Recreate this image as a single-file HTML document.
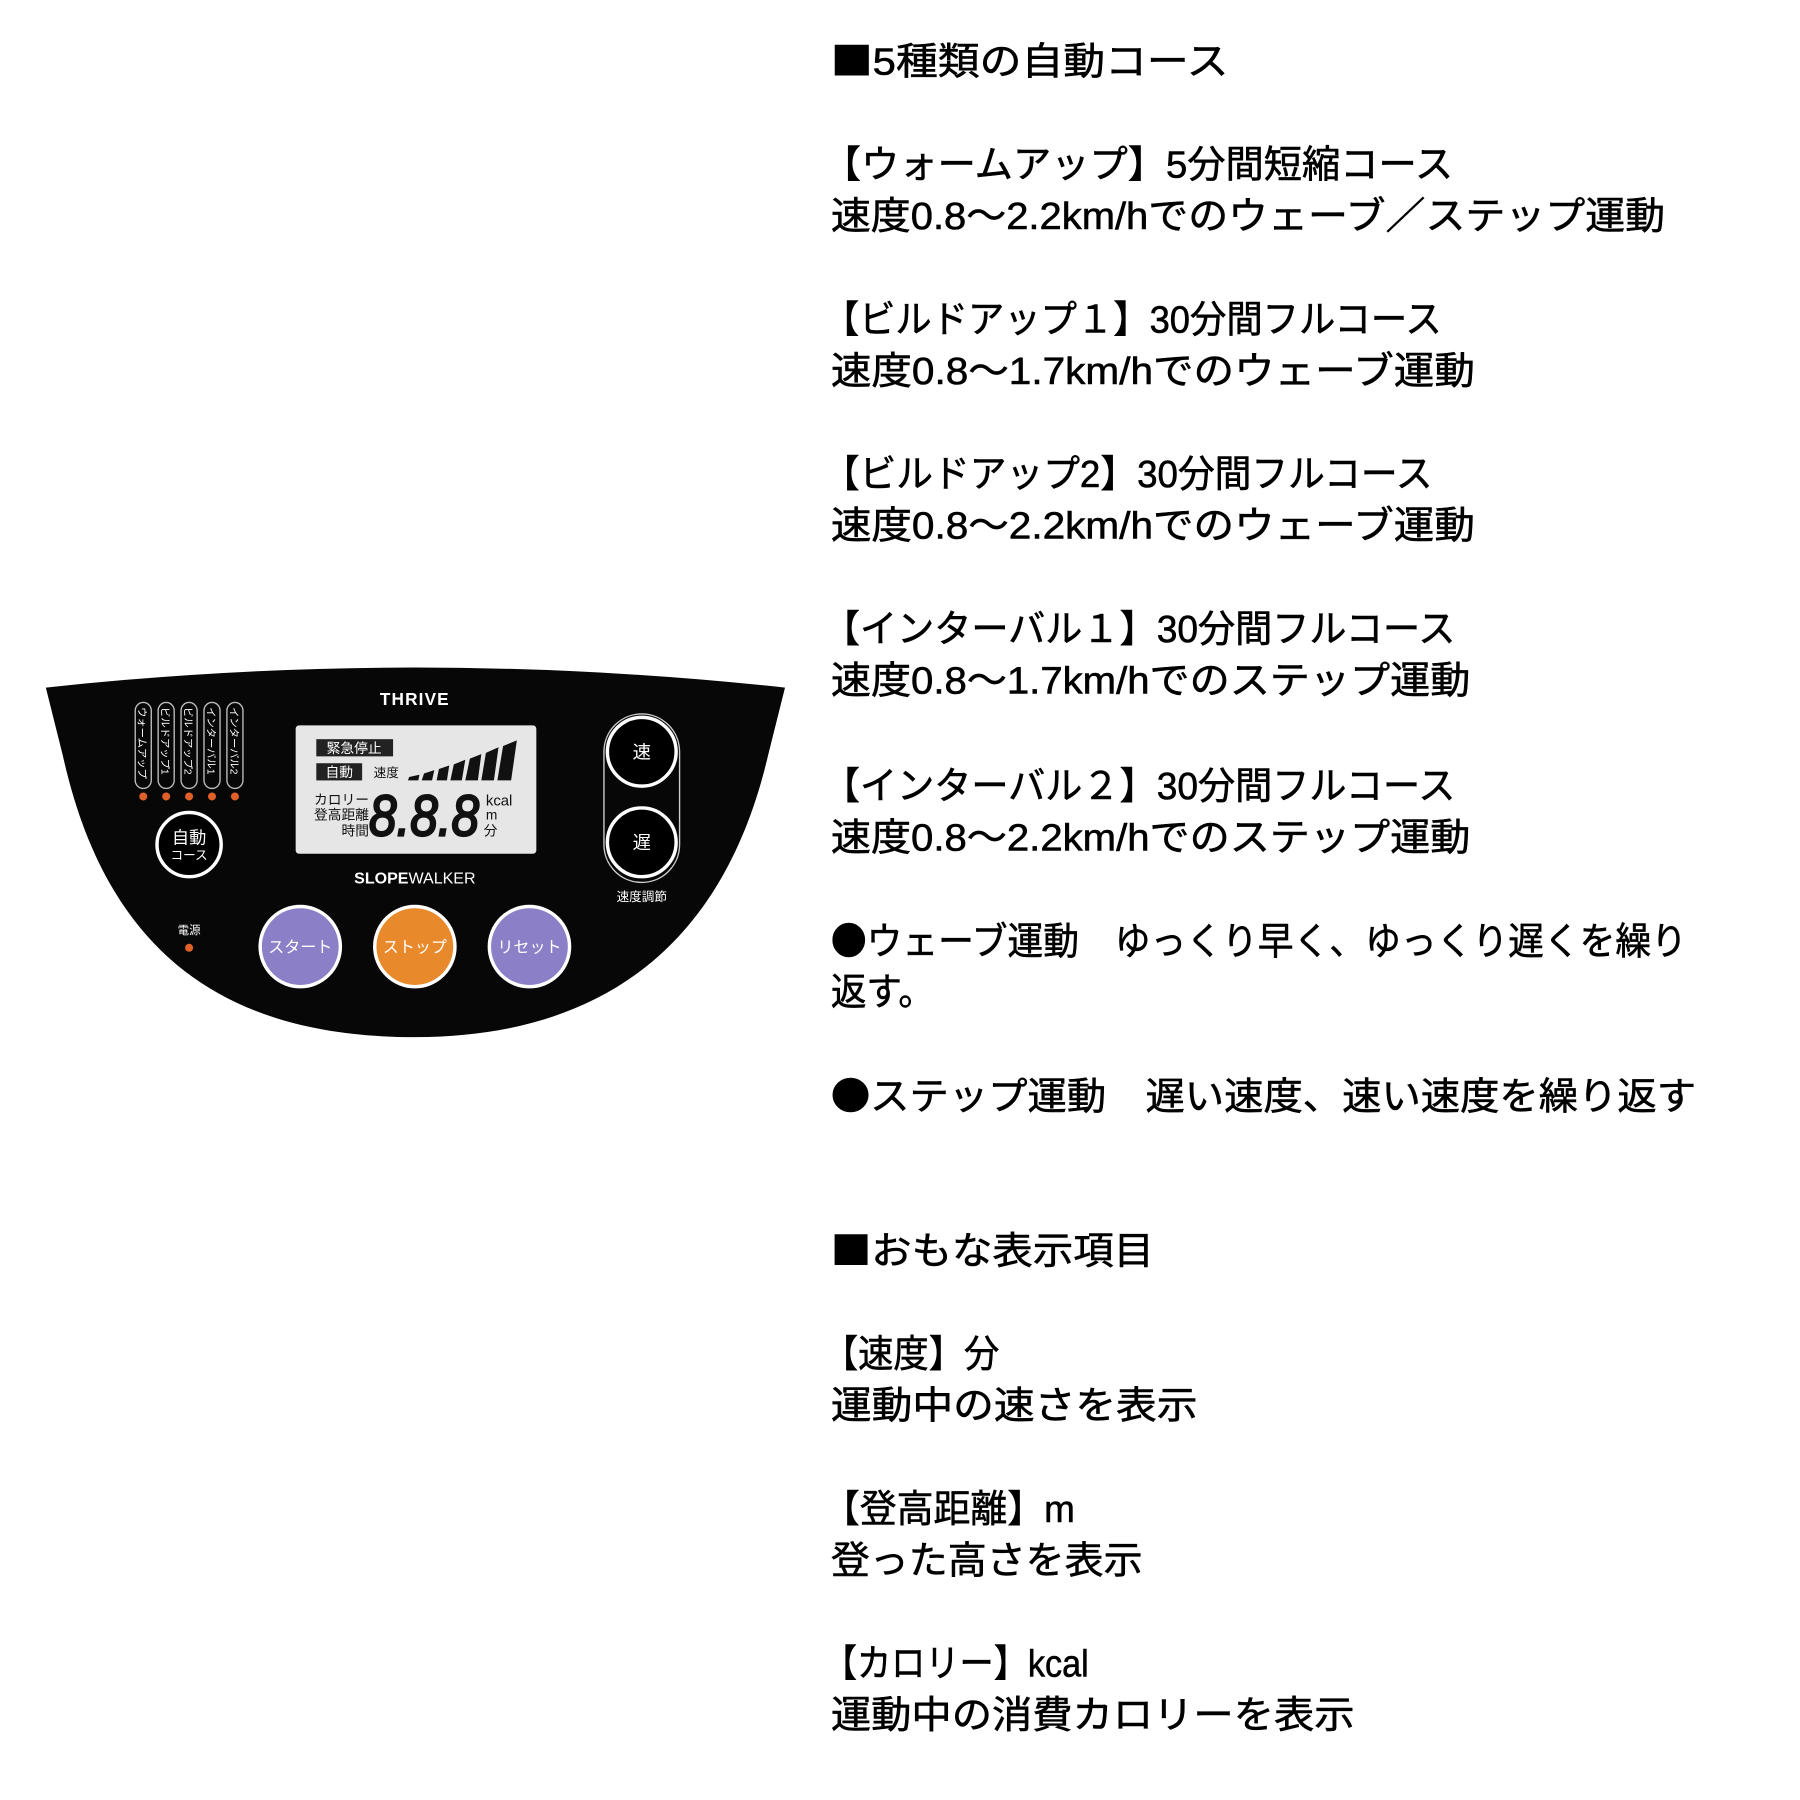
<!DOCTYPE html>
<html><head><meta charset="utf-8"><style>
html,body{margin:0;padding:0;background:#fff;width:1800px;height:1800px;overflow:hidden}
svg{display:block}
.t{font-family:"Liberation Sans","Noto Sans CJK JP",sans-serif;font-size:33px;fill:#000;stroke:#000;stroke-width:0.5}
.j{font-family:"Noto Sans CJK JP",sans-serif}
.w{font-family:"Liberation Sans","Noto Sans CJK JP",sans-serif;fill:#fff}
.k{font-family:"Liberation Sans","Noto Sans CJK JP",sans-serif;fill:#111}
</style></head><body>
<svg width="1800" height="1800" viewBox="0 0 1800 1800">
<g transform="scale(1.146)">
<path d="M40,600 Q362,565 685,600 L670,660 C630,830 520,905 362,905 C205,905 95,840 55,660 Z" fill="#070707"/>
<text x="362" y="615" class="w" font-size="15" font-weight="bold" text-anchor="middle" letter-spacing="1">THRIVE</text>
<g fill="none" stroke="#bbb" stroke-width="1.2">
<rect x="118" y="613" width="14" height="75" rx="7"/>
<rect x="138" y="613" width="14" height="75" rx="7"/>
<rect x="158" y="613" width="14" height="75" rx="7"/>
<rect x="178" y="613" width="14" height="75" rx="7"/>
<rect x="198" y="613" width="14" height="75" rx="7"/>
</g>
<g class="w" font-size="9">
<text transform="translate(121,617) rotate(90)">ウォームアップ</text>
<text transform="translate(141,617) rotate(90)">ビルドアップ1</text>
<text transform="translate(161,617) rotate(90)">ビルドアップ2</text>
<text transform="translate(181,617) rotate(90)">インターバル1</text>
<text transform="translate(201,617) rotate(90)">インターバル2</text>
</g>
<g fill="#e0602a">
<circle cx="125" cy="695" r="3.5"/><circle cx="145" cy="695" r="3.5"/><circle cx="165" cy="695" r="3.5"/><circle cx="185" cy="695" r="3.5"/><circle cx="205" cy="695" r="3.5"/>
<circle cx="165" cy="827" r="3.5"/>
</g>
<circle cx="165" cy="737" r="28" fill="#000" stroke="#fff" stroke-width="3"/>
<text x="165" y="736" class="w" font-size="15" text-anchor="middle">自動</text>
<text x="165" y="750" class="w" font-size="11" text-anchor="middle">コース</text>
<text x="165" y="815" class="w" font-size="10" text-anchor="middle">電源</text>
<rect x="258" y="633" width="210" height="112" rx="3" fill="#e6e6e6"/>
<rect x="276" y="645" width="67" height="15" fill="#222"/>
<text x="309" y="657" class="w" font-size="12" text-anchor="middle">緊急停止</text>
<rect x="276" y="666" width="40" height="15" fill="#222"/>
<text x="296" y="678" class="w" font-size="12" text-anchor="middle">自動</text>
<text x="326" y="678" class="k" font-size="11">速度</text>
<g fill="#111">
<polygon points="357,678 366,676 365,681 356,681"/>
<polygon points="370,675 379,672 377,681 368,681"/>
<polygon points="383,671 392,668 390,681 381,681"/>
<polygon points="396,667 406,663 403,681 393,681"/>
<polygon points="410,662 420,658 417,681 406,681"/>
<polygon points="424,657 435,652 431,681 420,681"/>
<polygon points="439,651 451,646 446,681 434,681"/>
</g>
<g class="k" font-size="12" text-anchor="end">
<text x="322" y="702">カロリー</text>
<text x="322" y="715">登高距離</text>
<text x="322" y="729">時間</text>
</g>
<text x="370" y="729" class="k" font-size="50" font-style="italic" text-anchor="middle" textLength="96" lengthAdjust="spacingAndGlyphs" fill="none" stroke="#111" stroke-width="2">8.8.8</text>
<text x="424" y="703" class="k" font-size="13">kcal</text>
<text x="424" y="715" class="k" font-size="12">m</text>
<text x="422" y="729" class="k" font-size="12">分</text>
<text x="362" y="771" class="w" font-size="14" text-anchor="middle" font-family="Liberation Serif"><tspan font-weight="bold">SLOPE</tspan>WALKER</text>
<rect x="527" y="623" width="66" height="147" rx="33" fill="none" stroke="#ccc" stroke-width="1.2"/>
<circle cx="560" cy="656" r="30" fill="#000" stroke="#fff" stroke-width="3"/>
<circle cx="560" cy="735" r="30" fill="#000" stroke="#fff" stroke-width="3"/>
<text x="560" y="662" class="w" font-size="16" text-anchor="middle">速</text>
<text x="560" y="741" class="w" font-size="16" text-anchor="middle">遅</text>
<text x="560" y="786" class="w" font-size="11" text-anchor="middle">速度調節</text>
<circle cx="262" cy="826" r="35" fill="#8b80c8" stroke="#fff" stroke-width="3"/>
<circle cx="362" cy="826" r="35" fill="#e88a2c" stroke="#fff" stroke-width="3"/>
<circle cx="462" cy="826" r="35" fill="#8b80c8" stroke="#fff" stroke-width="3"/>
<g class="w" font-size="14" text-anchor="middle">
<text x="262" y="831">スタート</text><text x="362" y="831">ストップ</text><text x="462" y="831">リセット</text>
</g>
<g class="t" transform="translate(0,3)">
<text x="725" y="62" textLength="347" lengthAdjust="spacingAndGlyphs"><tspan class="j">■</tspan>5種類の自動コース</text>
<text x="718" y="152" textLength="550" lengthAdjust="spacingAndGlyphs">【ウォームアップ】5分間短縮コース</text>
<text x="725" y="197" textLength="728" lengthAdjust="spacingAndGlyphs">速度0.8～2.2km/hでのウェーブ／ステップ運動</text>
<text x="718" y="287" textLength="540" lengthAdjust="spacingAndGlyphs">【ビルドアップ１】30分間フルコース</text>
<text x="725" y="332" textLength="562" lengthAdjust="spacingAndGlyphs">速度0.8～1.7km/hでのウェーブ運動</text>
<text x="718" y="422" textLength="532" lengthAdjust="spacingAndGlyphs">【ビルドアップ2】30分間フルコース</text>
<text x="725" y="467" textLength="562" lengthAdjust="spacingAndGlyphs">速度0.8～2.2km/hでのウェーブ運動</text>
<text x="718" y="557" textLength="552" lengthAdjust="spacingAndGlyphs">【インターバル１】30分間フルコース</text>
<text x="725" y="602" textLength="558" lengthAdjust="spacingAndGlyphs">速度0.8～1.7km/hでのステップ運動</text>
<text x="718" y="694" textLength="552" lengthAdjust="spacingAndGlyphs">【インターバル２】30分間フルコース</text>
<text x="725" y="739" textLength="558" lengthAdjust="spacingAndGlyphs">速度0.8～2.2km/hでのステップ運動</text>
<text x="725" y="830" textLength="747" lengthAdjust="spacingAndGlyphs"><tspan class="j">●</tspan>ウェーブ運動　ゆっくり早く、ゆっくり遅くを繰り</text>
<text x="725" y="874" textLength="90" lengthAdjust="spacingAndGlyphs">返す。</text>
<text x="725" y="965" textLength="755" lengthAdjust="spacingAndGlyphs"><tspan class="j">●</tspan>ステップ運動　遅い速度、速い速度を繰り返す</text>
<text x="725" y="1100" textLength="282" lengthAdjust="spacingAndGlyphs"><tspan class="j">■</tspan>おもな表示項目</text>
<text x="718" y="1190" textLength="154" lengthAdjust="spacingAndGlyphs">【速度】分</text>
<text x="725" y="1235" textLength="320" lengthAdjust="spacingAndGlyphs">運動中の速さを表示</text>
<text x="718" y="1325" textLength="220" lengthAdjust="spacingAndGlyphs">【登高距離】m</text>
<text x="725" y="1370" textLength="272" lengthAdjust="spacingAndGlyphs">登った高さを表示</text>
<text x="718" y="1460" textLength="232" lengthAdjust="spacingAndGlyphs">【カロリー】kcal</text>
<text x="725" y="1505" textLength="457" lengthAdjust="spacingAndGlyphs">運動中の消費カロリーを表示</text>
</g>
</g>
</svg>
</body></html>
